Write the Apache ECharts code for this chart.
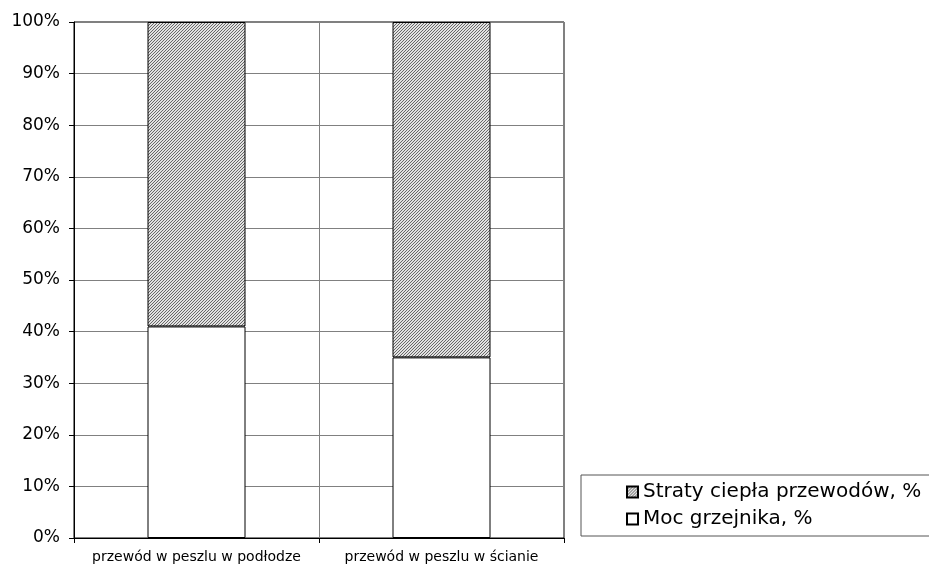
<!DOCTYPE html>
<html>
<head>
<meta charset="utf-8">
<script src="https://cdn.jsdelivr.net/npm/echarts@6/dist/echarts.min.js"></script>
<style>
  html, body { margin: 0; padding: 0; background: #fff; }
  #chart { width: 929px; height: 569px; }
</style>
</head>
<body>
<div id="chart"></div>
<script>
// Udział mocy grzejnika i strat ciepła przewodów
const categories = ['przewód w peszlu w podłodze', 'przewód w peszlu w ścianie'];
const mocGrzejnika = [41, 35];
const strataCiepla = [59, 65];
const yTicks = [0, 10, 20, 30, 40, 50, 60, 70, 80, 90, 100];

const FONT = 'DejaVu Sans, Verdana, sans-serif';

// Drobne kreskowanie ukośne dla serii strat
function hatchPattern() {
  const c = document.createElement('canvas');
  c.width = 3; c.height = 3;
  const ctx = c.getContext('2d');
  ctx.fillStyle = '#e2e2e2';
  ctx.fillRect(0, 0, 3, 3);
  ctx.fillStyle = '#686868';
  for (let i = 0; i < 3; i++) {
    ctx.fillRect(i, 2 - i, 1, 1);
  }
  return c;
}
const hatch = { image: hatchPattern(), repeat: 'repeat' };

const chart = echarts.init(document.getElementById('chart'));
chart.setOption({
  animation: false,
  backgroundColor: '#fff',
  textStyle: { fontFamily: FONT },
  grid: {
    left: 74, right: 365, top: 22, bottom: 31,
    show: true, borderColor: '#000', borderWidth: 1, backgroundColor: 'transparent'
  },
  legend: {
    orient: 'vertical',
    left: 581, top: 475,
    padding: [7, 40, 7, 45],
    icon: 'rect',
    itemWidth: 11, itemHeight: 11, itemGap: 7,
    borderColor: '#555', borderWidth: 1,
    data: ['Straty ciepła przewodów, %', 'Moc grzejnika, %'],
    textStyle: { fontSize: 20, color: '#000', lineHeight: 18, fontFamily: FONT }
  },
  xAxis: {
    type: 'category',
    data: categories,
    boundaryGap: true,
    axisLine: { lineStyle: { color: '#000', width: 1 } },
    axisTick: { show: true, length: 5, interval: 0, lineStyle: { color: '#000' } },
    axisLabel: { fontSize: 14, color: '#000', margin: 12, interval: 0, hideOverlap: false },
    splitLine: { show: true, interval: 0, lineStyle: { color: '#808080', width: 1 } }
  },
  yAxis: {
    type: 'value',
    min: yTicks[0], max: yTicks[yTicks.length - 1], interval: 10,
    axisLine: { show: true, lineStyle: { color: '#000', width: 1 } },
    axisTick: { show: true, length: 5, lineStyle: { color: '#000' } },
    axisLabel: { fontSize: 17, color: '#000', margin: 14, formatter: '{value}%' },
    splitLine: { show: true, lineStyle: { color: '#808080', width: 1 } }
  },
  series: [
    {
      name: 'Moc grzejnika, %',
      type: 'bar',
      stack: 'suma',
      barWidth: '40%',
      data: mocGrzejnika,
      itemStyle: { color: '#fff', borderColor: '#000', borderWidth: 1 }
    },
    {
      name: 'Straty ciepła przewodów, %',
      type: 'bar',
      stack: 'suma',
      barWidth: '40%',
      data: strataCiepla,
      itemStyle: { color: hatch, borderColor: '#000', borderWidth: 1 }
    }
  ]
});
</script>
</body>
</html>
